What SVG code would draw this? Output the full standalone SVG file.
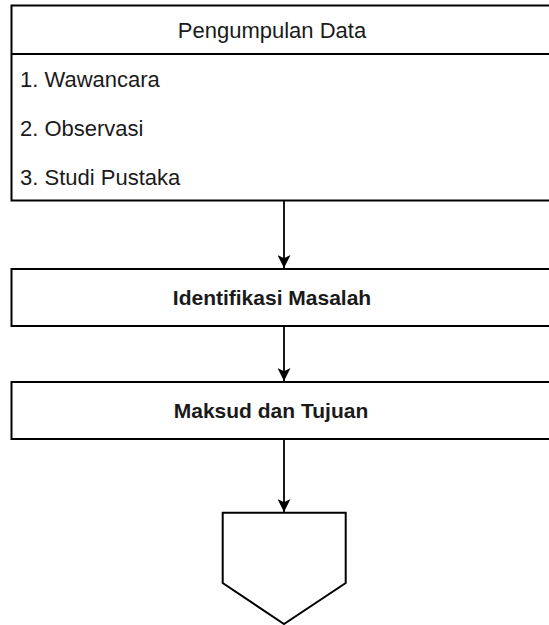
<svg xmlns="http://www.w3.org/2000/svg" width="549" height="625" viewBox="0 0 549 625">
  <style>
    .box { fill: #ffffff; stroke: #000000; stroke-width: 2; }
    .t { font-family: "Liberation Sans", Arial, sans-serif; font-size: 22px; fill: #1a1a1a; }
    .c { text-anchor: middle; }
    .b { font-weight: bold; font-size: 21px; }
    .conn { stroke: #000000; stroke-width: 1.8; fill: none; marker-end: url(#arrow); }
  </style>
  <defs>
    <marker id="arrow" viewBox="0 0 10 10" refX="10" refY="5" markerWidth="13" markerHeight="13" markerUnits="userSpaceOnUse" orient="auto">
      <path d="M0,0 L10,5 L0,10 L2.5,5 z" fill="#000000"/>
    </marker>
  </defs>
  <rect width="549" height="625" fill="#ffffff"/>

  <g id="pengumpulan-data">
    <rect class="box" x="11.5" y="5.5" width="560" height="195"/>
    <line x1="11.5" y1="54" x2="571.5" y2="54" stroke="#000000" stroke-width="2"/>
    <text class="t c" x="272" y="38">Pengumpulan Data</text>
    <text class="t" x="20" y="87">1. Wawancara</text>
    <text class="t" x="20" y="136">2. Observasi</text>
    <text class="t" x="20" y="185">3. Studi Pustaka</text>
  </g>

  <g id="identifikasi-masalah">
    <rect class="box" x="11.5" y="269" width="560" height="57"/>
    <text class="t c b" x="272" y="305">Identifikasi Masalah</text>
  </g>

  <g id="maksud-tujuan">
    <rect class="box" x="11.5" y="382" width="560" height="57"/>
    <text class="t c b" x="271" y="418">Maksud dan Tujuan</text>
  </g>

  <g id="offpage">
    <polygon class="box" points="222.7,512.7 345.7,512.7 345.7,583 284,624 222.7,583"/>
  </g>

  <g id="connectors">
    <line class="conn" x1="284" y1="201" x2="284" y2="268"/>
    <line class="conn" x1="284" y1="326" x2="284" y2="381"/>
    <line class="conn" x1="284" y1="439" x2="284" y2="512"/>
  </g>
</svg>
